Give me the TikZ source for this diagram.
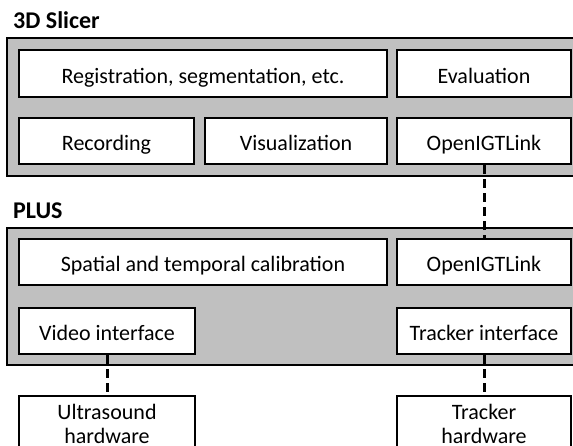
\documentclass[tikz,border=0pt]{standalone}
\usepackage{fontspec}
\setmainfont{Carlito}
\definecolor{framegray}{RGB}{192,192,192}
\begin{document}
\begin{tikzpicture}[x=1pt,y=-1pt,
  every node/.style={font=\fontsize{22}{24}\selectfont},
  frame/.style={draw=black, line width=2pt, fill=framegray},
  box/.style={draw=black, line width=2pt, fill=white, inner sep=0pt, align=center,
              text height=19pt, text depth=0pt},
  hwbox/.style={draw=black, line width=2pt, fill=white, inner sep=0pt, align=center,
              text height=47pt, text depth=8pt, anchor=north},
  link/.style={line width=3pt, dash pattern=on 9pt off 5pt},
  title/.style={font=\fontsize{24}{26}\selectfont\bfseries, anchor=base west, inner sep=0pt}]
\useasboundingbox (0,0) rectangle (573,445);
% containers
\path[frame] (7,38) rectangle (585,176);
\path[frame] (7,228) rectangle (585,365);
\node[title] (slicer) at (13,28) {3D Slicer};
\node[title] (plus) at (13,218) {PLUS};
% 3D Slicer boxes
\node[box, minimum width=368pt, minimum height=47pt] (reg) at (203,73.5) {Registration, segmentation, etc.};
\node[box, minimum width=174pt, minimum height=47pt] (eval) at (484,73.5) {Evaluation};
\node[box, minimum width=175pt, minimum height=46pt] (rec) at (106.5,141) {Recording};
\node[box, minimum width=182pt, minimum height=46pt] (vis) at (296,141) {Visualization};
\node[box, minimum width=174pt, minimum height=46pt] (oigta) at (484,141) {OpenIGTLink};
% PLUS boxes
\node[box, minimum width=368pt, minimum height=46pt] (calib) at (203,262) {Spatial and temporal calibration};
\node[box, minimum width=174pt, minimum height=46pt] (oigtb) at (484,262) {OpenIGTLink};
\node[box, minimum width=176pt, minimum height=46pt] (video) at (107,331) {Video interface};
\node[box, minimum width=174pt, minimum height=46pt] (trackif) at (484,331) {Tracker interface};
% hardware
\node[hwbox, minimum width=176pt] (us) at (107,395) {Ultrasound\\hardware};
\node[hwbox, minimum width=174pt] (trackhw) at (484,395) {Tracker\\hardware};
% connectors
\draw[link] (oigta.south) -- (oigtb.north);
\draw[link] (video.south) -- (us.north);
\draw[link] (trackif.south) -- (trackhw.north);
\end{tikzpicture}
\end{document}
